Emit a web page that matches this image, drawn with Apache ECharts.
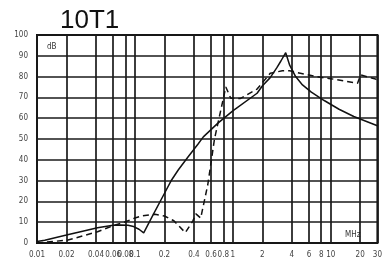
<!DOCTYPE html>
<html>
<head>
<meta charset="utf-8">
<script src="https://cdn.jsdelivr.net/npm/echarts@6/dist/echarts.min.js"></script>
<style>html,body{margin:0;padding:0;background:#fff}#c{width:385px;height:259px}</style>
</head>
<body>
<div id="c"></div>
<script>
var title = '10T1';
var xTicks = [0.01, 0.02, 0.04, 0.06, 0.08, 0.1, 0.2, 0.4, 0.6, 0.8, 1, 2, 4, 6, 8, 10, 20, 30];
var yTicks = [0, 10, 20, 30, 40, 50, 60, 70, 80, 90, 100];

var solidFreq = [0.01, 0.012, 0.02, 0.03, 0.0415, 0.06, 0.0714, 0.085, 0.097, 0.11, 0.123, 0.15, 0.2, 0.237, 0.277, 0.35, 0.44, 0.5, 0.7, 1.0, 1.77, 2.0, 2.41, 2.82, 3.1, 3.47, 3.81, 4.38, 5.15, 6.34, 8.58, 12.16, 17.2, 30];
var solidDb   = [0.7, 1.3, 3.8, 5.8, 7.3, 8.5, 8.7, 8.5, 7.9, 6.6, 4.9, 12.7, 23.8, 30.3, 35.1, 41.5, 47.5, 51, 57.5, 63.5, 72, 75.5, 79.5, 84.3, 87.5, 91.5, 85.5, 80, 76, 72.5, 68.5, 64.3, 60.8, 56.4];

var dashFreq = [0.01, 0.0207, 0.0415, 0.06, 0.08, 0.1, 0.12, 0.16, 0.2, 0.25, 0.327, 0.39, 0.42, 0.47, 0.555, 0.65, 0.755, 0.848, 0.953, 1.2, 1.77, 2.41, 3.2, 3.8, 4.48, 7.1, 10, 18.8, 20.2, 28.7, 30];
var dashDb   = [0, 1.4, 5.4, 8.3, 10.2, 12, 13.1, 13.8, 13.0, 10.7, 5.0, 10.5, 14, 12, 28, 50, 64, 75, 69.6, 69.5, 74, 81.6, 82.8, 82.8, 82, 80, 79, 76.8, 80.8, 78.8, 78.5];

function pairs(xs, ys) { return xs.map(function (x, i) { return [x, ys[i]]; }); }

var smallFont = "'Liberation Sans Narrow', 'DejaVu Sans Condensed', 'Liberation Sans', sans-serif";

var chart = echarts.init(document.getElementById('c'), null, {renderer: 'canvas'});
chart.setOption({
  animation: false,
  backgroundColor: '#fff',
  title: {
    text: title, left: 55, top: 3,
    textStyle: {fontSize: 26, fontWeight: 'normal', color: '#111', fontFamily: 'Liberation Sans'}
  },
  grid: {left: 37, top: 35, right: 3, bottom: 16, show: true, borderColor: '#111', borderWidth: 2, backgroundColor: 'transparent'},
  xAxis: {
    type: 'log', logBase: 10, min: 0.01, max: 30,
    axisLine: {show: false},
    splitLine: {show: false},
    axisTick: {show: true, inside: true, length: 208, customValues: xTicks, lineStyle: {color: '#1a1a1a', width: 1.7}},
    axisLabel: {customValues: xTicks, fontSize: 8, color: '#444', margin: 8, fontFamily: smallFont,
      formatter: function (v) { return String(+v.toPrecision(3)); }}
  },
  yAxis: {
    type: 'value', min: 0, max: 100, interval: 10,
    axisLine: {show: false},
    axisTick: {show: false},
    splitLine: {show: true, lineStyle: {color: '#1a1a1a', width: 1.7}},
    axisLabel: {customValues: yTicks, fontSize: 8, color: '#444', margin: 9, fontFamily: smallFont}
  },
  graphic: [
    {type: 'text', left: 47, top: 43, style: {text: 'dB', fontSize: 8, fill: '#333', fontFamily: smallFont}},
    {type: 'text', left: 345, top: 231, style: {text: 'MHz', fontSize: 8, fill: '#333', fontFamily: smallFont}}
  ],
  series: [
    {type: 'line', data: pairs(solidFreq, solidDb), symbol: 'none', smooth: false,
      lineStyle: {color: '#111', width: 1.5}},
    {type: 'line', data: pairs(dashFreq, dashDb), symbol: 'none', smooth: false,
      lineStyle: {color: '#111', width: 1.5, type: [6, 4]}}
  ]
});
</script>
</body>
</html>
